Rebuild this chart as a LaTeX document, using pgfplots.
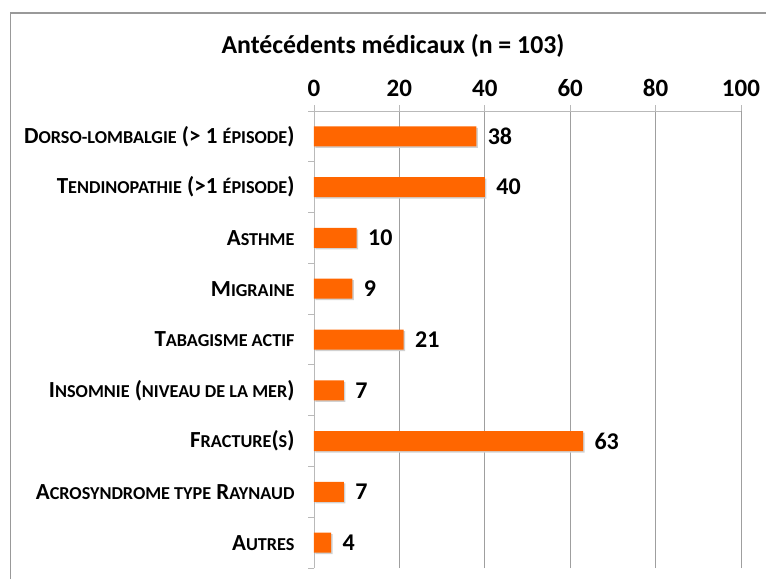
\documentclass[border=0pt]{standalone}
\usepackage{fontspec}
\setmainfont{Carlito}
\usepackage{pgfplots}
\pgfplotsset{compat=1.18}
\definecolor{barorange}{HTML}{FF6600}
\newcommand{\sm}[1]{{\fontsize{18.2}{18}\selectfont\MakeUppercase{#1}}}
\begin{document}
\begin{tikzpicture}
\useasboundingbox (0,0) rectangle (766pt,579pt);
\draw[color=gray!80, line width=1.2pt] (10.5pt,0) -- (10.5pt,566pt) -- (766pt,566pt);
\node[font=\bfseries\fontsize{25.8}{26}\selectfont] at (393pt,533pt) {Antécédents médicaux (n = 103)};
\begin{axis}[
  at={(314pt,11pt)}, anchor=south west,
  width=427pt, height=457pt, scale only axis,
  xbar, bar width=20pt, bar shift=0pt,
  xmin=0, xmax=100,
  ymin=-0.5, ymax=8.5,
  axis x line*=top, axis y line*=left,
  axis line style={-, draw=gray!55, line width=0.9pt},
  xtick={0,20,...,100},
  ytick={0,...,8},
  minor ytick={-0.5,0.5,...,8.5},
  yticklabels={{A\sm{utres}},{A\sm{crosyndrome type} R\sm{aynaud}},{F\sm{racture}(\sm{s})},{I\sm{nsomnie} (\sm{niveau de la mer})},{T\sm{abagisme actif}},{M\sm{igraine}},{A\sm{sthme}},{T\sm{endinopathie} (>1 \sm{épisode})},{D\sm{orso-lombalgie} (> 1 \sm{épisode})}},
  tick align=outside,
  major tick length=6pt, minor tick length=6pt,
  major y tick style={draw=none},
  tick style={draw=gray!55, line width=0.9pt},
  xmajorgrids, grid style={draw=gray!75, line width=0.9pt},
  /pgf/number format/assume math mode=true,
  xticklabel style={font=\bfseries\fontsize{25}{25}\selectfont, yshift=5pt},
  yticklabel style={font=\bfseries\fontsize{23}{23}\selectfont, xshift=-10pt},
  clip=false,
]
\addplot[fill=black!18, draw=none, xshift=1.5pt, yshift=-1.5pt] coordinates {
(4,0) (7,1) (63,2) (7,3) (21,4) (9,5) (10,6) (40,7) (38,8)
};
\addplot[fill=barorange, draw=none,
  nodes near coords,
  nodes near coords style={font=\bfseries\fontsize{24}{24}\selectfont, black, anchor=west, xshift=8pt}] coordinates {
(4,0) (7,1) (63,2) (7,3) (21,4) (9,5) (10,6) (40,7) (38,8)
};
\end{axis}
\end{tikzpicture}
\end{document}
